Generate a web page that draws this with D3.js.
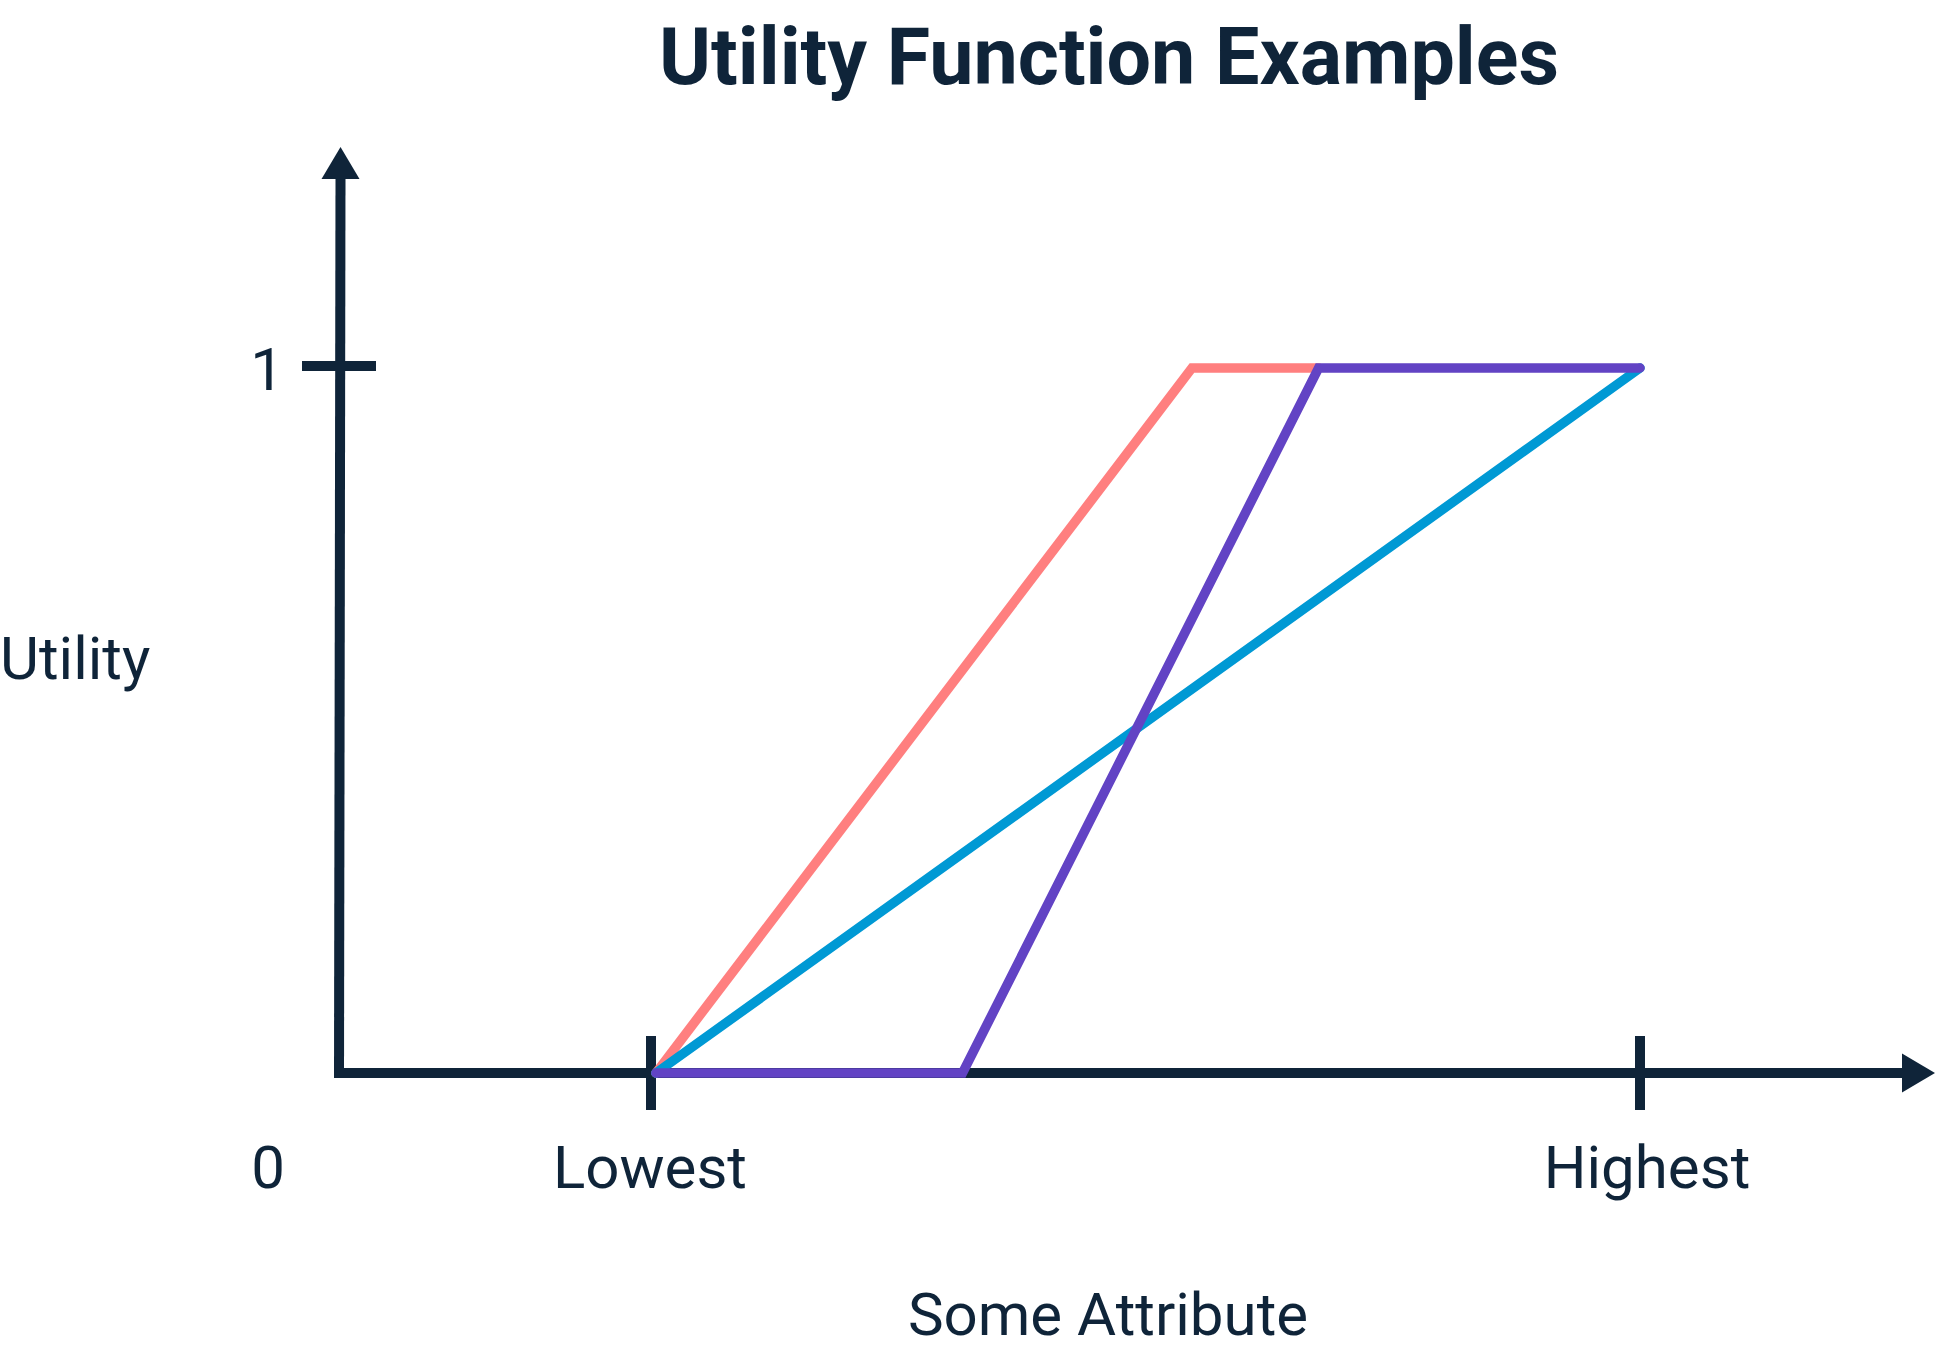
<!DOCTYPE html>
<html>
<head>
<meta charset="utf-8">
<script src="https://cdn.jsdelivr.net/npm/d3@7"></script>
<style>
  html, body { margin: 0; padding: 0; background: #ffffff; }
  svg { display: block; }
  text { font-family: Roboto, "Noto Sans", sans-serif; fill: #0F2439; }
</style>
</head>
<body>
<script>
// ---- Data ----
const title = "Utility Function Examples";
const xLabel = "Some Attribute";
const yLabel = "Utility";
const xTickLabels = ["Lowest", "Highest"];   // attribute values 0 and 1
const xTickValues = [0, 1];
const yTickLabels = ["1"];
const yTickValues = [1];
const originLabel = "0";

// series: [attribute, utility]
const pinkSeries   = [[0.005, 0], [0.547, 1], [0.675, 1]];
const blueSeries   = [[0.005, 0], [1, 1]];
const purpleSeries = [[0.005, 0], [0.315, 0], [0.675, 1], [1, 1]];

const seriesColors = { pink: "#FF7F7F", blue: "#0099D4", purple: "#6243C4" };

// ---- Layout ----
const W = 1936, H = 1352;
const ink = "#0F2439";
const svg = d3.select("body").append("svg").attr("width", W).attr("height", H);

const x = d3.scaleLinear().domain([0, 1]).range([651, 1640]);
const y = d3.scaleLinear().domain([0, 1]).range([1073, 368]);

const axisX = 339;            // y-axis position
const axisW = 10;
const xAxisStart = axisX - axisW / 2;
const xArrowTip = 1935, xArrowLen = 33, xArrowHalf = 19.5;
const yArrowTip = 147,  yArrowLen = 32, yArrowHalf = 19;

const g = svg.append("g");

// x axis line
g.append("line")
  .attr("x1", xAxisStart).attr("x2", xArrowTip - xArrowLen + 1)
  .attr("y1", y(0)).attr("y2", y(0))
  .attr("stroke", ink).attr("stroke-width", axisW);
// x arrow
g.append("path")
  .attr("d", d3.line()([[xArrowTip, y(0)], [xArrowTip - xArrowLen, y(0) - xArrowHalf], [xArrowTip - xArrowLen, y(0) + xArrowHalf]]) + "Z")
  .attr("fill", ink);

// y axis line
g.append("line")
  .attr("x1", axisX).attr("x2", axisX + 1.5)
  .attr("y1", y(0) + axisW / 2).attr("y2", yArrowTip + yArrowLen - 1)
  .attr("stroke", ink).attr("stroke-width", axisW);
// y arrow
g.append("path")
  .attr("d", d3.line()([[axisX + 1.5, yArrowTip], [axisX + 1.5 - yArrowHalf, yArrowTip + yArrowLen], [axisX + 1.5 + yArrowHalf, yArrowTip + yArrowLen]]) + "Z")
  .attr("fill", ink);

// x ticks
g.selectAll(".xtick").data(xTickValues).join("line")
  .attr("class", "xtick")
  .attr("x1", d => x(d)).attr("x2", d => x(d))
  .attr("y1", y(0) - 37).attr("y2", y(0) + 37)
  .attr("stroke", ink).attr("stroke-width", axisW);
g.selectAll(".xticklabel").data(xTickValues).join("text")
  .attr("class", "xticklabel")
  .attr("x", (d, i) => x(d) + (i === 1 ? 7 : -1)).attr("y", 1188)
  .attr("text-anchor", "middle")
  .attr("font-size", 60)
  .text((d, i) => xTickLabels[i]);

// y ticks
g.selectAll(".ytick").data(yTickValues).join("line")
  .attr("class", "ytick")
  .attr("x1", 302).attr("x2", 376)
  .attr("y1", d => y(d) - 2).attr("y2", d => y(d) - 2)
  .attr("stroke", ink).attr("stroke-width", axisW);
g.selectAll(".yticklabel").data(yTickValues).join("text")
  .attr("class", "yticklabel")
  .attr("x", 267).attr("y", d => y(d) + 22)
  .attr("text-anchor", "middle")
  .attr("font-size", 60)
  .text((d, i) => yTickLabels[i]);

// origin label
g.append("text").attr("x", 268).attr("y", 1188)
  .attr("text-anchor", "middle").attr("font-size", 60).text(originLabel);

// series lines
const line = d3.line().x(d => x(d[0])).y(d => y(d[1]));
const series = [
  { data: pinkSeries, color: seriesColors.pink },
  { data: blueSeries, color: seriesColors.blue },
  { data: purpleSeries, color: seriesColors.purple }
];
g.selectAll(".series").data(series).join("path")
  .attr("class", "series")
  .attr("d", d => line(d.data))
  .attr("fill", "none")
  .attr("stroke", d => d.color)
  .attr("stroke-width", 9.5)
  .attr("stroke-linejoin", "miter")
  .attr("stroke-linecap", "round");

// labels
svg.append("text").attr("x", 1109).attr("y", 84)
  .attr("text-anchor", "middle").attr("font-size", 79).attr("font-weight", 700)
  .text(title);
svg.append("text").attr("x", 0).attr("y", 679)
  .attr("font-size", 60).text(yLabel);
svg.append("text").attr("x", 1108).attr("y", 1335)
  .attr("text-anchor", "middle").attr("font-size", 60).text(xLabel);
</script>
</body>
</html>
